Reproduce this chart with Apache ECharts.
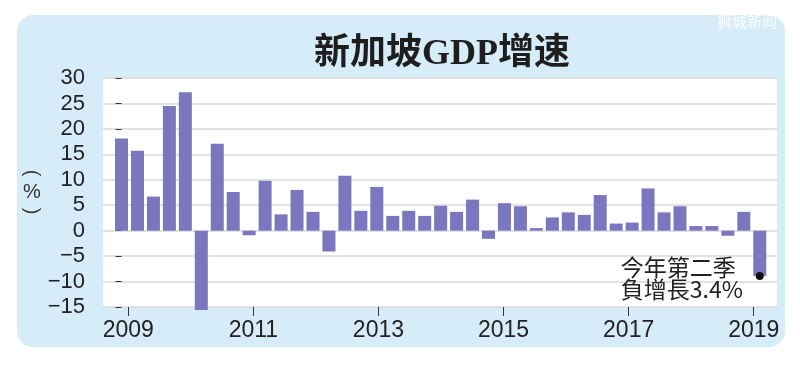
<!DOCTYPE html>
<html>
<head>
<meta charset="utf-8">
<script src="https://cdn.jsdelivr.net/npm/echarts@6/dist/echarts.min.js"></script>
<style>html,body{margin:0;padding:0;background:#fff}#c{width:800px;height:365px}</style>
</head>
<body>
<div id="c"></div>
<script>
// Quarterly categories: 2009 Q2 ... 2019 Q2
const quarters = [
  '2009Q2','2009Q3','2009Q4',
  '2010Q1','2010Q2','2010Q3','2010Q4',
  '2011Q1','2011Q2','2011Q3','2011Q4',
  '2012Q1','2012Q2','2012Q3','2012Q4',
  '2013Q1','2013Q2','2013Q3','2013Q4',
  '2014Q1','2014Q2','2014Q3','2014Q4',
  '2015Q1','2015Q2','2015Q3','2015Q4',
  '2016Q1','2016Q2','2016Q3','2016Q4',
  '2017Q1','2017Q2','2017Q3','2017Q4',
  '2018Q1','2018Q2','2018Q3','2018Q4',
  '2019Q1','2019Q2'
];
// GDP growth (%)
const growth = [
  18.1, 15.7, 6.7,
  24.5, 27.2, -15.6, 17.1,
  7.6, -0.9, 9.8, 3.2,
  8.0, 3.7, -4.1, 10.8,
  3.9, 8.6, 2.9, 3.9,
  2.9, 4.9, 3.7, 6.1,
  -1.6, 5.4, 4.8, 0.5,
  2.6, 3.6, 3.1, 7.0,
  1.4, 1.6, 8.3, 3.6,
  4.8, 0.9, 0.9, -1.0,
  3.7, -8.9
];
const yearTicks = [2009, 2011, 2013, 2015, 2017, 2019];
const titleText = '新加坡GDP增速';
const unitParts = ['(', '%', ')'];
const noteLines = ['今年第二季', '負增長3.4%'];
const watermarkText = '狮城新闻';

const labelFont = '"Liberation Sans", Arial, sans-serif';
const chart = echarts.init(document.getElementById('c'), null, {renderer: 'canvas'});
chart.setOption({
  animation: false,
  backgroundColor: '#ffffff',
  graphic: [
    {type: 'rect', z: -100, shape: {x: 17, y: 15, width: 768, height: 332, r: 16},
     style: {fill: '#d6ecf8'}},
    {type: 'text', z: 100, left: 717, top: 14,
     style: {text: watermarkText, fill: 'rgba(255,255,255,0.85)', font: '15px "Noto Sans CJK SC"'}},
    {type: 'text', z: 100, x: 32, y: 173, rotation: -Math.PI / 2,
     style: {text: unitParts[0], fill: '#333', font: '20px ' + labelFont, align: 'center', verticalAlign: 'middle'}},
    {type: 'text', z: 100, x: 32, y: 192,
     style: {text: unitParts[1], fill: '#333', font: '20px ' + labelFont, align: 'center', verticalAlign: 'middle'}},
    {type: 'text', z: 100, x: 32, y: 211, rotation: -Math.PI / 2,
     style: {text: unitParts[2], fill: '#333', font: '20px ' + labelFont, align: 'center', verticalAlign: 'middle'}}
  ],
  title: {
    text: titleText, left: 314, top: 37, padding: 0,
    textStyle: {fontFamily: '"Liberation Serif", "Noto Sans CJK SC", serif', fontWeight: 'bold', fontSize: 36, color: '#1e1e1e'}
  },
  grid: {left: 103, right: 23, top: 78, bottom: 58, show: true, backgroundColor: '#ffffff', borderWidth: 0},
  xAxis: [
    {type: 'value', min: -1.16, max: 41.08, show: false},
    {type: 'value', min: 2008.596, max: 2019.372, position: 'bottom',
     axisLine: {show: false}, splitLine: {show: false},
     axisTick: {show: true, length: 9, customValues: yearTicks, lineStyle: {color: '#333', width: 1}},
     axisLabel: {customValues: yearTicks, margin: 12, fontSize: 23, color: '#222',
       fontFamily: labelFont, formatter: v => String(v)}}
  ],
  yAxis: {
    type: 'value', min: -15, max: 30, interval: 5,
    axisLine: {show: false},
    axisTick: {show: true, length: 6, lineStyle: {color: '#333', width: 1}},
    axisLabel: {margin: 18, fontSize: 22, color: '#222', fontFamily: labelFont,
      formatter: v => v < 0 ? '\u2212' + Math.abs(v) : String(v)},
    splitLine: {show: true, lineStyle: {color: '#d8d8d8', width: 1.5}}
  },
  series: [{
    type: 'bar', xAxisIndex: 0, yAxisIndex: 0,
    data: growth.map((v, i) => ({name: quarters[i], value: [i, v]})),
    barWidth: 13, clip: false,
    itemStyle: {color: '#7a77bf'},
    markPoint: {
      symbol: 'circle', symbolSize: 8,
      itemStyle: {color: '#111'},
      data: [{coord: [growth.length - 1, growth[growth.length - 1]]}],
      label: {
        show: true, position: 'left', distance: 13, offset: [0, 2],
        formatter: noteLines.map(s => '{a|' + s + '}').join('\n'),
        rich: {a: {width: 122, align: 'left', fontSize: 23, lineHeight: 22, color: '#222',
          fontFamily: '"Noto Sans CJK TC", sans-serif'}}
      }
    }
  }]
});
</script>
</body>
</html>
